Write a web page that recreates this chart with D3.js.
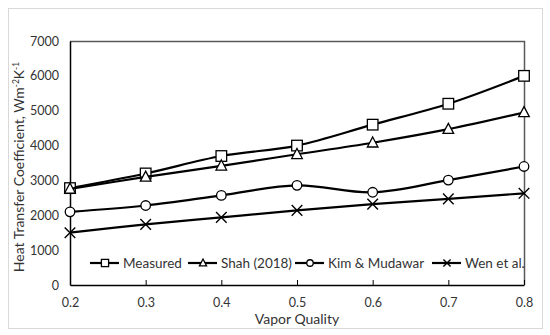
<!DOCTYPE html>
<html>
<head>
<meta charset="utf-8">
<script src="https://cdn.jsdelivr.net/npm/d3@7"></script>
<style>
  body { margin: 0; background: #fff; }
  svg { display: block; font-family: Lato, "Open Sans", sans-serif; }
</style>
</head>
<body>
<svg id="chart" width="550" height="335"></svg>
<script>
// data
const quality = [0.2, 0.3, 0.4, 0.5, 0.6, 0.7, 0.8]
const measured = [2780, 3200, 3700, 4000, 4600, 5200, 6000]
const shah = [2760, 3100, 3420, 3750, 4080, 4470, 4950]
const kim = [2100, 2280, 2570, 2860, 2660, 3010, 3400]
const wen = [1500, 1740, 1940, 2140, 2320, 2470, 2630]
const yTicks = [0, 1000, 2000, 3000, 4000, 5000, 6000, 7000]

const series = [
    { name: 'Measured', values: measured, symbol: 'square', lx: 90 },
    { name: 'Shah (2018)', values: shah, symbol: 'triangle', lx: 188 },
    { name: 'Kim & Mudawar', values: kim, symbol: 'circle', lx: 295 },
    { name: 'Wen et al.', values: wen, symbol: 'cross', lx: 432 }
]

const svg = d3.select('#chart')
const plot = { left: 70, right: 524, top: 41, bottom: 285 }

// outer frame
svg.append('rect')
    .attr('x', 8.5).attr('y', 8.5)
    .attr('width', 534).attr('height', 320)
    .attr('fill', '#fff')
    .attr('stroke', '#d9d9d9')

const x = d3.scaleLinear().domain([0.2, 0.8]).range([plot.left, plot.right])
const y = d3.scaleLinear().domain([0, 7000]).range([plot.bottom, plot.top])

// plot area top/right border
svg.append('path')
    .attr('d', `M${plot.left},${plot.top + 0.5}H${plot.right + 0.5}V${plot.bottom}`)
    .attr('fill', 'none')
    .attr('stroke', '#595959')
    .attr('stroke-width', 1.5)

// axes
const xAxis = svg.append('g')
    .attr('transform', `translate(0,${plot.bottom})`)
    .call(d3.axisBottom(x).tickValues(quality).tickFormat(d3.format('.1f')).tickSizeInner(-5).tickSizeOuter(0).tickPadding(13))
xAxis.select('.domain').attr('stroke', '#000').attr('stroke-width', 1.5)
xAxis.selectAll('.tick line').attr('stroke', '#000')
xAxis.selectAll('text').attr('font-size', 12.5).attr('fill', '#333').attr('font-family', 'Lato, sans-serif')

const yAxis = svg.append('g')
    .attr('transform', `translate(${plot.left},0)`)
    .call(d3.axisLeft(y).tickValues(yTicks).tickFormat(d3.format('d')).tickSize(0).tickPadding(11))
yAxis.select('.domain').attr('stroke', '#000').attr('stroke-width', 1.5)
yAxis.selectAll('text').attr('font-size', 12.5).attr('fill', '#333').attr('font-family', 'Lato, sans-serif')

// axis titles
svg.append('text')
    .attr('x', (plot.left + plot.right) / 2).attr('y', 324)
    .attr('text-anchor', 'middle')
    .attr('font-size', 14)
    .attr('fill', '#333')
    .text('Vapor Quality')

const yTitle = svg.append('text')
    .attr('transform', `translate(24,${(plot.top + plot.bottom) / 2 + 4}) rotate(-90)`)
    .attr('text-anchor', 'middle')
    .attr('font-size', 14)
    .attr('fill', '#333')
yTitle.append('tspan').text('Heat Transfer Coefficient, Wm')
yTitle.append('tspan').attr('font-size', 8.5).attr('dy', -5).text('-2')
yTitle.append('tspan').attr('dy', 5).text('K')
yTitle.append('tspan').attr('font-size', 8.5).attr('dy', -5).text('-1')

// markers
function marker(g, type, cx, cy, s)
{
    if(type === 'square')
    {
        g.append('rect').attr('x', cx - s).attr('y', cy - s)
            .attr('width', 2 * s).attr('height', 2 * s)
            .attr('fill', '#fff').attr('stroke', '#000').attr('stroke-width', 1.3)
    }
    else if(type === 'triangle')
    {
        g.append('path')
            .attr('d', `M${cx},${cy - s * 1.1}L${cx + s},${cy + s * 0.8}L${cx - s},${cy + s * 0.8}Z`)
            .attr('fill', '#fff').attr('stroke', '#000').attr('stroke-width', 1.3)
    }
    else if(type === 'circle')
    {
        g.append('circle').attr('cx', cx).attr('cy', cy).attr('r', s * 0.9)
            .attr('fill', '#fff').attr('stroke', '#000').attr('stroke-width', 1.3)
    }
    else
    {
        g.append('path')
            .attr('d', `M${cx - s},${cy - s}L${cx + s},${cy + s}M${cx - s},${cy + s}L${cx + s},${cy - s}`)
            .attr('stroke', '#000').attr('stroke-width', 1.4)
    }
}

const line = d3.line()
    .x((d, i) => x(quality[i]))
    .y(d => y(d))
    .curve(d3.curveCatmullRom.alpha(0.5))

series.forEach(s => {
    svg.append('path')
        .attr('d', line(s.values))
        .attr('fill', 'none')
        .attr('stroke', '#000')
        .attr('stroke-width', 2.2)
    const g = svg.append('g')
    s.values.forEach((v, i) => marker(g, s.symbol, x(quality[i]), y(v), 5.3))
})

// legend
const ly = 263
series.forEach(s => {
    const g = svg.append('g')
    g.append('line')
        .attr('x1', s.lx).attr('x2', s.lx + 29)
        .attr('y1', ly).attr('y2', ly)
        .attr('stroke', '#000').attr('stroke-width', 2.2)
    marker(g, s.symbol, s.lx + 15, ly, 3.6)
    g.append('text')
        .attr('x', s.lx + 33).attr('y', ly + 5)
        .attr('font-size', 13.5)
        .attr('fill', '#333')
        .text(s.name)
})
</script>
</body>
</html>
